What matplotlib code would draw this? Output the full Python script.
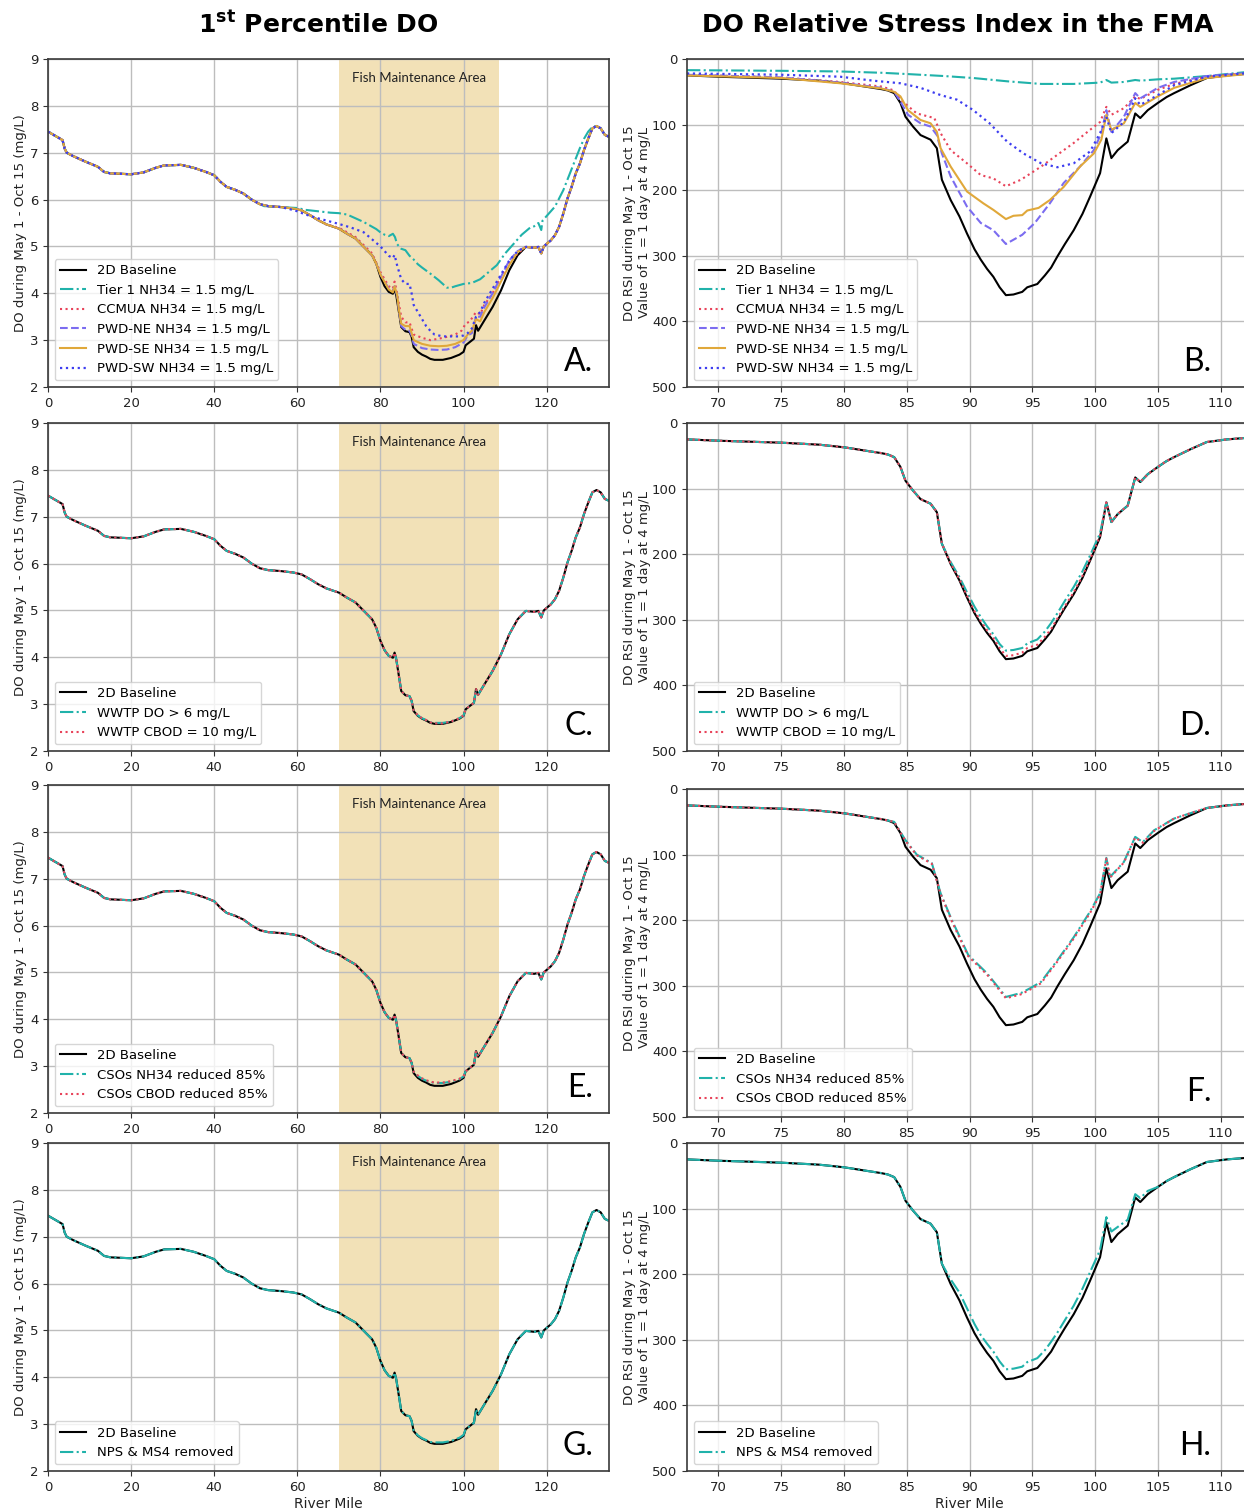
import numpy as np
import matplotlib
matplotlib.use("Agg")
import matplotlib.pyplot as plt

# ---------------- data ----------------
# 1st percentile DO (mg/L) vs river mile, 2D baseline
do_miles = [0, 3.5, 4, 4.5, 6, 9, 12, 13.5, 15, 20, 23, 26, 28, 32, 35, 38, 40, 41.5, 43, 45,
            47, 49, 51, 53, 56, 59, 61, 63, 65, 67, 70, 72, 74, 76, 78, 79, 80, 81, 82, 83,
            83.4, 83.8, 84.5, 85, 86, 87, 87.5, 88, 89, 90, 91, 92, 93, 95, 97, 99, 100,
            100.5, 101.5, 102.5, 103, 103.5, 105, 107, 109, 111, 113, 115, 117, 118, 118.7,
            119.3, 121, 122, 123, 124, 125, 126, 127, 128, 129, 130, 131, 132, 133, 134, 135]
do_base = [7.45, 7.27, 7.09, 7.0, 6.93, 6.81, 6.70, 6.59, 6.56, 6.54, 6.58, 6.68, 6.73, 6.74,
           6.68, 6.59, 6.52, 6.38, 6.27, 6.21, 6.13, 6.0, 5.9, 5.86, 5.84, 5.81, 5.77, 5.67,
           5.56, 5.47, 5.38, 5.27, 5.17, 4.99, 4.81, 4.63, 4.35, 4.15, 4.03, 3.99, 4.1, 3.96,
           3.57, 3.28, 3.19, 3.17, 3.07, 2.85, 2.75, 2.69, 2.65, 2.6, 2.58, 2.58, 2.62, 2.69,
           2.75, 2.89, 2.96, 3.03, 3.32, 3.2, 3.42, 3.71, 4.06, 4.49, 4.81, 4.99, 4.97, 4.99,
           4.85, 5.0, 5.13, 5.24, 5.42, 5.7, 6.02, 6.27, 6.56, 6.77, 7.06, 7.3, 7.52, 7.57,
           7.52, 7.38, 7.34]

# scenario segments (outside these miles the scenario follows the baseline)
tier1_do_miles = [52, 55, 58, 60, 62, 65, 68, 70, 72, 74, 76, 78, 79, 80, 81, 82, 83, 83.5, 84,
                  85, 86, 87, 88, 89, 90, 92, 94, 96, 97, 98, 100, 102, 104, 106, 108, 110, 112,
                  114, 116, 117, 118, 118.7, 119, 120, 122, 124, 126, 128, 129, 130, 131, 132,
                  133, 134]
tier1_do = [5.86, 5.85, 5.83, 5.82, 5.78, 5.75, 5.72, 5.71, 5.68, 5.6, 5.52, 5.42, 5.37, 5.3,
            5.25, 5.22, 5.27, 5.2, 5.05, 4.95, 4.92, 4.8, 4.72, 4.62, 4.55, 4.42, 4.28, 4.12,
            4.12, 4.15, 4.2, 4.22, 4.3, 4.45, 4.6, 4.85, 5.05, 5.25, 5.4, 5.43, 5.5, 5.35, 5.55,
            5.65, 5.85, 6.2, 6.65, 7.1, 7.3, 7.45, 7.55, 7.57, 7.52, 7.38]

ccmua_do_miles = [70, 74, 78, 80, 81, 82, 83, 83.4, 83.8, 84.5, 85, 86, 87, 87.5, 88, 90, 92,
                  94, 96, 98, 99.5, 100.5, 101.5, 103, 104, 105, 107, 109, 111, 113]
ccmua_do = [5.40, 5.2, 4.85, 4.45, 4.3, 4.15, 4.1, 4.25, 4.1, 3.75, 3.5, 3.38, 3.38, 3.25, 3.12,
            3.05, 3.0, 3.03, 3.07, 3.12, 3.2, 3.35, 3.4, 3.6, 3.55, 3.75, 4.0, 4.35, 4.65, 4.85]

pwdne_do_miles = [80, 82, 83, 83.4, 84, 84.5, 85, 86, 87, 87.5, 88, 90, 92, 94, 96, 98, 100,
                  101, 102, 103, 104, 105, 107, 109, 111, 113]
pwdne_do = [4.4, 4.1, 4.05, 4.15, 3.95, 3.6, 3.3, 3.22, 3.2, 3.1, 2.92, 2.83, 2.8, 2.79, 2.8,
            2.85, 2.95, 3.1, 3.15, 3.5, 3.5, 3.7, 4.0, 4.35, 4.7, 4.9]

pwdse_do_miles = [80, 82, 83, 83.4, 84, 84.5, 85, 86, 87, 87.5, 88, 90, 92, 94, 96, 98, 100,
                  101, 102, 103, 104, 105, 107, 109, 111, 113]
pwdse_do = [4.4, 4.08, 4.02, 4.15, 3.97, 3.62, 3.35, 3.3, 3.3, 3.15, 3.0, 2.92, 2.88, 2.87,
            2.88, 2.92, 3.0, 3.12, 3.2, 3.45, 3.4, 3.6, 3.9, 4.25, 4.6, 4.88]

pwdsw_do_miles = [58, 60, 62, 65, 70, 73, 76, 78, 80, 81, 82, 83, 83.4, 84, 85, 86, 87, 87.5,
                  88, 89, 90, 91, 92, 93, 95, 97, 99, 100, 101, 102, 103, 104, 105, 107, 109,
                  111, 113]
pwdsw_do = [5.8, 5.75, 5.68, 5.6, 5.48, 5.4, 5.3, 5.15, 5.0, 4.9, 4.8, 4.75, 4.82, 4.6, 4.3,
            4.2, 4.2, 4.0, 3.75, 3.6, 3.45, 3.3, 3.2, 3.12, 3.08, 3.08, 3.08, 3.1, 3.15, 3.25,
            3.5, 3.6, 3.8, 4.1, 4.4, 4.7, 4.9]

low_do_miles = [88, 89, 90, 91, 92, 93, 95, 97, 99, 100]
wwtp_do_do = [2.86, 2.76, 2.70, 2.66, 2.61, 2.60, 2.60, 2.63, 2.70, 2.76]
wwtp_cbod_do = [2.86, 2.76, 2.70, 2.66, 2.61, 2.59, 2.59, 2.63, 2.70, 2.76]
cso_nh34_do = [2.88, 2.79, 2.73, 2.69, 2.66, 2.64, 2.64, 2.67, 2.72, 2.78]
cso_cbod_do = [2.88, 2.80, 2.74, 2.70, 2.67, 2.65, 2.65, 2.68, 2.73, 2.78]
nps_do = [2.86, 2.76, 2.70, 2.66, 2.62, 2.61, 2.61, 2.64, 2.71, 2.77]

# DO relative stress index in the FMA, 2D baseline
rsi_miles = [67.5, 70, 75, 78, 80, 81, 82, 83, 83.5, 84, 84.5, 84.9, 85.5, 86.1, 86.9, 87.4,
             87.8, 88.5, 89.2, 89.8, 90.4, 90.9, 91.4, 91.9, 92.4, 92.9, 93.5, 94.2, 94.6,
             95.4, 96, 96.5, 97, 97.6, 98.3, 99, 99.6, 100.4, 100.9, 101.3, 101.8, 102.6,
             103.2, 103.6, 104.2, 105, 105.7, 106.3, 107.6, 108.9, 110.5, 112.5]
rsi_base = [25, 27, 30, 33, 37, 40, 43, 46, 48, 52, 67, 88, 103, 116, 123, 136, 184, 215, 240,
            266, 290, 306, 320, 332, 348, 360, 359, 355, 348, 343, 330, 318, 301, 282, 261,
            236, 210, 174, 121, 151, 139, 126, 83, 90, 78, 67, 58, 52, 40, 29, 25, 22]

tier1_rsi_miles = [67.5, 75, 79.7, 83, 85.1, 88, 90.3, 93, 95.7, 98.3, 100.4, 100.9, 101.3,
                   102.3, 103.2, 103.6, 105, 106.3, 108.9, 112.5]
tier1_rsi = [17, 18, 19, 21, 23, 26, 29, 34, 38, 38, 36, 32, 36, 35, 32, 33, 31, 30, 26, 19]

ccmua_rsi_miles = [67.5, 75, 79.7, 83, 84, 84.5, 85.8, 87.2, 87.7, 88.5, 89.8, 90.9, 91.9,
                   92.9, 94.1, 95.7, 97.0, 98.3, 99.6, 100.4, 100.9, 101.3, 102.3, 103.2,
                   103.6, 105, 106.3, 108.9, 112.5]
ccmua_rsi = [24, 28, 35, 42, 48, 62, 83, 90, 113, 139, 159, 177, 182, 194, 184, 164, 146, 128,
             108, 96, 73, 85, 75, 57, 61, 47, 38, 27, 21]

pwdne_rsi_miles = [67.5, 75, 79.7, 83, 84, 84.5, 85.1, 86.1, 86.9, 87.4, 87.8, 88.5, 89.8,
                   90.9, 91.9, 92.9, 94.2, 95.2, 96.4, 97.5, 98.8, 99.9, 100.5, 100.9, 101.3,
                   102.3, 103.2, 103.6, 105, 106.3, 108.9, 112.5]
pwdne_rsi = [24, 28, 36, 44, 50, 65, 85, 98, 103, 116, 144, 179, 225, 250, 261, 282, 268, 250,
             220, 189, 164, 139, 113, 78, 111, 88, 52, 60, 44, 35, 26, 21]

pwdse_rsi_miles = [67.5, 75, 79.7, 83, 84, 84.5, 85.1, 86.1, 86.9, 87.4, 87.7, 88.5, 89.8,
                   91.1, 91.9, 92.9, 93.5, 94.2, 94.6, 95.5, 96.4, 97.5, 98.8, 99.9, 100.5,
                   100.9, 101.3, 102.3, 103.2, 103.6, 105, 106.3, 108.9, 112.5]
pwdse_rsi = [25, 29, 37, 45, 50, 57, 78, 93, 98, 111, 136, 164, 202, 220, 230, 244, 239, 238,
             231, 227, 215, 195, 164, 144, 123, 85, 108, 98, 67, 73, 57, 44, 29, 22]

pwdsw_rsi_miles = [67.5, 75, 79.7, 82.3, 84.5, 86.1, 87.7, 89, 90.3, 91.6, 93, 94.3, 95.7, 97,
                   98.3, 99.6, 100.4, 100.9, 101.3, 102.3, 103.2, 103.6, 105, 106.3, 108.9,
                   112.5]
pwdsw_rsi = [22, 24, 27, 33, 37, 44, 55, 62, 78, 98, 126, 144, 159, 165, 159, 141, 113, 88,
             113, 96, 60, 70, 55, 40, 27, 21]

mid_rsi_miles = [88.5, 89.2, 89.8, 90.4, 90.9, 91.4, 91.9, 92.4, 92.9, 93.5, 94.2, 94.6, 95.4,
                 96, 96.5, 97, 97.6, 98.3, 99, 99.6, 100.4]
wwtp_do_rsi = [212, 235, 258, 280, 296, 310, 322, 337, 347, 346, 343, 336, 330, 318, 305, 290,
               271, 250, 226, 202, 168]
wwtp_cbod_rsi = [214, 238, 263, 287, 302, 316, 328, 343, 355, 354, 350, 343, 338, 326, 314,
                 298, 279, 258, 233, 208, 172]

cso_rsi_miles = [84, 84.9, 85.8, 87.0, 87.7, 88.6, 89.9, 91.4, 92.9, 94.1, 94.9, 95.7, 97.0,
                 98.3, 99.6, 100.4, 100.9, 101.2, 102.3, 103.2, 103.8, 104.7, 106.3, 107.9]
cso_nh34_rsi = [50, 78, 100, 113, 159, 200, 253, 281, 317, 311, 303, 294, 261, 226, 187, 159,
                105, 134, 111, 73, 81, 63, 45, 35]
cso_cbod_rsi = [50, 79, 101, 114, 160, 202, 255, 283, 319, 313, 305, 296, 263, 228, 189, 161,
                106, 135, 112, 74, 82, 64, 45, 35]

nps_rsi_miles = [88.5, 89.2, 89.8, 90.4, 90.9, 91.4, 91.9, 92.4, 92.9, 93.5, 94.2, 94.6, 95.4,
                 96, 96.5, 97, 97.6, 98.3, 99, 99.6, 100.4, 100.9, 101.3, 101.8, 102.6, 103.2,
                 103.6, 104.2]
nps_rsi = [208, 228, 252, 276, 293, 306, 318, 333, 345, 344, 341, 334, 328, 316, 303, 289, 270,
           248, 222, 197, 163, 113, 135, 128, 117, 78, 84, 73]

fma_start, fma_end = 70, 108.6

# ---------------- helpers ----------------
plt.rcParams["mathtext.fontset"] = "dejavusans"
W, H = 1244, 1509
fig = plt.figure(figsize=(W / 100, H / 100), dpi=100)


def splice(bx, by, sx, sy):
    """scenario = baseline outside its own segment, its own points inside"""
    bx, by = np.asarray(bx, float), np.asarray(by, float)
    keep = (bx < sx[0]) | (bx > sx[-1])
    x = np.concatenate([bx[keep], sx])
    y = np.concatenate([by[keep], sy])
    order = np.argsort(x)
    return x[order], y[order]


def px_axes(left, top, right, bottom):
    return fig.add_axes([left / W, 1 - bottom / H, (right - left) / W, (bottom - top) / H])


def style(ax):
    ax.grid(True, color="#bdbdbd", lw=1.0)
    ax.set_axisbelow(True)
    for s in ax.spines.values():
        s.set_color("#3a3a3a")
        s.set_linewidth(1.2)
    ax.tick_params(labelsize=9.5, colors="#333333", labelcolor="#222222")


base_style = dict(color="black", lw=1.5)
cyan = dict(color="#20b2aa", ls="-.", lw=1.5)
red = dict(color="#e8435a", ls=":", lw=1.5)
purple = dict(color="#7b6cf0", ls="--", lw=1.5)
gold = dict(color="#e0a83a", ls="-", lw=1.5)
blue = dict(color="#3d3df0", ls=":", lw=1.6)

rows_left = [(59, 387), (423, 751), (785, 1113), (1143, 1471)]
rows_right = [(59, 387), (423, 751), (789, 1117), (1143, 1471)]

do_panels = [
    [("2D Baseline", do_miles, do_base, base_style),
     ("Tier 1 NH34 = 1.5 mg/L", *splice(do_miles, do_base, tier1_do_miles, tier1_do), cyan),
     ("CCMUA NH34 = 1.5 mg/L", *splice(do_miles, do_base, ccmua_do_miles, ccmua_do), red),
     ("PWD-NE NH34 = 1.5 mg/L", *splice(do_miles, do_base, pwdne_do_miles, pwdne_do), purple),
     ("PWD-SE NH34 = 1.5 mg/L", *splice(do_miles, do_base, pwdse_do_miles, pwdse_do), gold),
     ("PWD-SW NH34 = 1.5 mg/L", *splice(do_miles, do_base, pwdsw_do_miles, pwdsw_do), blue)],
    [("2D Baseline", do_miles, do_base, base_style),
     ("WWTP DO > 6 mg/L", *splice(do_miles, do_base, low_do_miles, wwtp_do_do), cyan),
     ("WWTP CBOD = 10 mg/L", *splice(do_miles, do_base, low_do_miles, wwtp_cbod_do), red)],
    [("2D Baseline", do_miles, do_base, base_style),
     ("CSOs NH34 reduced 85%", *splice(do_miles, do_base, low_do_miles, cso_nh34_do), cyan),
     ("CSOs CBOD reduced 85%", *splice(do_miles, do_base, low_do_miles, cso_cbod_do), red)],
    [("2D Baseline", do_miles, do_base, base_style),
     ("NPS & MS4 removed", *splice(do_miles, do_base, low_do_miles, nps_do), cyan)],
]

rsi_panels = [
    [("2D Baseline", rsi_miles, rsi_base, base_style),
     ("Tier 1 NH34 = 1.5 mg/L", tier1_rsi_miles, tier1_rsi, cyan),
     ("CCMUA NH34 = 1.5 mg/L", ccmua_rsi_miles, ccmua_rsi, red),
     ("PWD-NE NH34 = 1.5 mg/L", pwdne_rsi_miles, pwdne_rsi, purple),
     ("PWD-SE NH34 = 1.5 mg/L", pwdse_rsi_miles, pwdse_rsi, gold),
     ("PWD-SW NH34 = 1.5 mg/L", pwdsw_rsi_miles, pwdsw_rsi, blue)],
    [("2D Baseline", rsi_miles, rsi_base, base_style),
     ("WWTP DO > 6 mg/L", *splice(rsi_miles, rsi_base, mid_rsi_miles, wwtp_do_rsi), cyan),
     ("WWTP CBOD = 10 mg/L", *splice(rsi_miles, rsi_base, mid_rsi_miles, wwtp_cbod_rsi), red)],
    [("2D Baseline", rsi_miles, rsi_base, base_style),
     ("CSOs NH34 reduced 85%", *splice(rsi_miles, rsi_base, cso_rsi_miles, cso_nh34_rsi), cyan),
     ("CSOs CBOD reduced 85%", *splice(rsi_miles, rsi_base, cso_rsi_miles, cso_cbod_rsi), red)],
    [("2D Baseline", rsi_miles, rsi_base, base_style),
     ("NPS & MS4 removed", *splice(rsi_miles, rsi_base, nps_rsi_miles, nps_rsi), cyan)],
]

left_letters = ["A.", "C.", "E.", "G."]
right_letters = ["B.", "D.", "F.", "H."]

for i in range(4):
    # ---- left column: 1st percentile DO ----
    top, bottom = rows_left[i]
    ax = px_axes(48, top, 609, bottom)
    ax.axvspan(fma_start, fma_end, color="#f2e1b7", zorder=0, lw=0)
    for label, x, y, st in do_panels[i]:
        ax.plot(x, y, label=label, **st)
    ax.set_xlim(0, 135)
    ax.set_ylim(2, 9)
    ax.set_xticks(range(0, 121, 20))
    ax.set_yticks(range(2, 10))
    style(ax)
    ax.set_ylabel("DO during May 1 - Oct 15 (mg/L)", fontsize=9.5, color="#222222",
                  labelpad=2)
    ax.text((fma_start + fma_end) / 2, 8.6, "Fish Maintenance Area", ha="center",
            va="center", fontsize=9.5, family="Lato", color="#222222")
    ax.text(0.972, 0.03, left_letters[i], transform=ax.transAxes, ha="right", va="bottom",
            fontsize=23, family="Lato")
    ax.legend(loc="lower left", fontsize=9.5, handlelength=2.0)
    if i == 3:
        ax.set_xlabel("River Mile", fontsize=10, color="#222222", labelpad=2)

    # ---- right column: relative stress index ----
    top, bottom = rows_right[i]
    ax = px_axes(687, top, 1252, bottom)
    for label, x, y, st in rsi_panels[i]:
        ax.plot(x, y, label=label, **st)
    ax.set_xlim(67.5, 112.5)
    ax.set_ylim(500, 0)
    ax.set_xticks(range(70, 111, 5))
    ax.set_yticks(range(0, 501, 100))
    style(ax)
    ax.set_ylabel("DO RSI during May 1 - Oct 15\nValue of 1 = 1 day at 4 mg/L",
                  fontsize=9.5, color="#222222", labelpad=1)
    ax.text(0.928, 0.03, right_letters[i], transform=ax.transAxes, ha="right",
            va="bottom", fontsize=23, family="Lato")
    ax.legend(loc="lower left", fontsize=9.5, handlelength=2.0)
    if i == 3:
        ax.set_xlabel("River Mile", fontsize=10, color="#222222", labelpad=2)

fig.text(318 / W, 1 - 25 / H, r"1$^{\mathbf{st}}$ Percentile DO", ha="center", va="center",
         fontsize=18, fontweight="bold")
fig.text(958 / W, 1 - 25 / H, "DO Relative Stress Index in the FMA", ha="center",
         va="center", fontsize=18, fontweight="bold")

fig.savefig("out.png", dpi=100)
